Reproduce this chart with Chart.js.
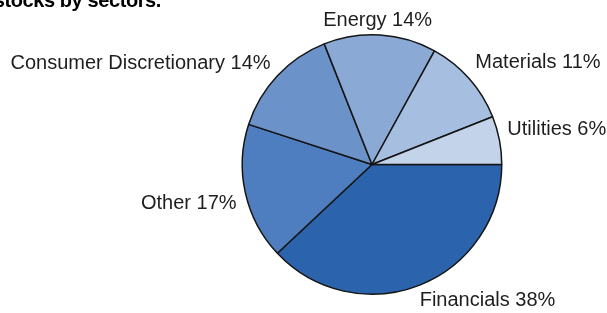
<!DOCTYPE html>
<html>
<head>
<meta charset="utf-8">
<script src="https://cdn.jsdelivr.net/npm/chart.js@4.4.0/dist/chart.umd.min.js"></script>
<style>
  html, body { margin: 0; padding: 0; background: #ffffff; }
  #wrap { width: 607px; height: 313px; position: relative; }
</style>
</head>
<body>
<div id="wrap"><canvas id="c" width="607" height="313"></canvas></div>
<script>
// ---- data ----
const categories = ["Financials", "Other", "Consumer Discretionary", "Energy", "Materials", "Utilities"];
const shares = [38, 17, 14, 14, 11, 6];
const sliceColors = ["#2c63ad", "#4e7ebf", "#6c93c9", "#8aa9d5", "#a6bee0", "#c2d3ea"];
const titleText = "stocks by sectors.";

// label nudges (style only), in the same order as categories
const labelNudge = [[-3, -1], [-1, 7], [-1, 0], [-3, 3], [0, -4], [0, -7]];

const labelPlugin = {
  id: 'sliceLabels',
  afterDatasetsDraw(chart) {
    const ctx = chart.ctx;
    const meta = chart.getDatasetMeta(0);
    ctx.save();
    ctx.font = '20px "Liberation Sans", Arial, sans-serif';
    ctx.fillStyle = '#1e1e1e';
    ctx.textBaseline = 'middle';
    meta.data.forEach((arc, i) => {
      const p = arc.getProps(['x', 'y', 'startAngle', 'endAngle', 'outerRadius'], true);
      const mid = (p.startAngle + p.endAngle) / 2;
      const c = Math.cos(mid), s = Math.sin(mid);
      const r = p.outerRadius + 8;
      let x = p.x + r * c;
      let y = p.y + r * s + s * 10;
      let align = Math.abs(c) < 0.2 ? 'center' : (c > 0 ? 'left' : 'right');
      x += labelNudge[i][0];
      y += labelNudge[i][1];
      ctx.textAlign = align;
      ctx.fillText(categories[i] + ' ' + shares[i] + '%', x, y);
    });
    ctx.restore();
  }
};

const titlePlugin = {
  id: 'cutTitle',
  afterDraw(chart) {
    const ctx = chart.ctx;
    ctx.save();
    ctx.font = 'bold 20px "Liberation Sans", Arial, sans-serif';
    ctx.fillStyle = '#000000';
    ctx.textAlign = 'right';
    ctx.textBaseline = 'alphabetic';
    if ('letterSpacing' in ctx) ctx.letterSpacing = '-0.4px';
    ctx.fillText(titleText, 161, 7);
    ctx.restore();
  }
};

new Chart(document.getElementById('c'), {
  type: 'pie',
  data: {
    labels: categories,
    datasets: [{
      data: shares,
      backgroundColor: sliceColors,
      borderColor: '#151515',
      borderWidth: 1.5
    }]
  },
  options: {
    responsive: false,
    animation: false,
    rotation: 90,
    layout: { padding: { left: 241.5, right: 104.5, top: 34, bottom: 18 } },
    plugins: {
      legend: { display: false },
      title: { display: false },
      tooltip: { enabled: false }
    }
  },
  plugins: [labelPlugin, titlePlugin]
});
</script>
</body>
</html>
